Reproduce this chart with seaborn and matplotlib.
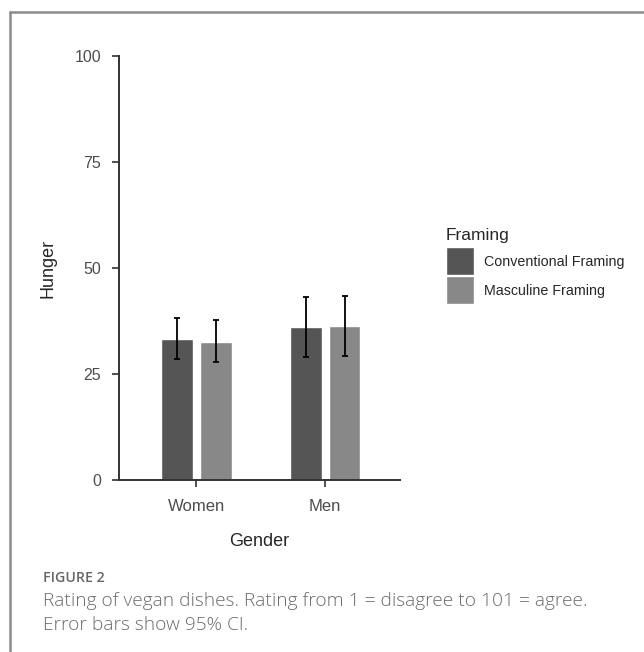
import pandas as pd
import matplotlib.pyplot as plt
import matplotlib.patches as mpatches
from matplotlib.legend_handler import HandlerPatch
import seaborn as sns

# Values
genders = ["Women", "Men"]
framings = ["Conventional Framing", "Masculine Framing"]
hunger_conv = [33.2, 36.1]
hunger_masc = [32.6, 36.4]
ci_low_conv = [28.5, 29.0]
ci_high_conv = [38.1, 43.2]
ci_low_masc = [27.9, 29.3]
ci_high_masc = [37.7, 43.4]

df = pd.DataFrame({
    "Gender": genders * 2,
    "Framing": [framings[0]] * 2 + [framings[1]] * 2,
    "Hunger": hunger_conv + hunger_masc,
    "lo": ci_low_conv + ci_low_masc,
    "hi": ci_high_conv + ci_high_masc,
})

sns.set_style("white")
plt.rcParams["font.family"] = ["Liberation Sans", "DejaVu Sans"]

fig = plt.figure(figsize=(6.44, 6.52), dpi=100)
ax = fig.add_axes([119 / 644, 1 - 480 / 652, 281 / 644, 424 / 652])

sns.barplot(data=df, x="Gender", y="Hunger", hue="Framing", order=genders,
            hue_order=framings, palette=["#555555", "#888888"],
            width=0.6, gap=0.18, errorbar=None, ax=ax)

# error bars at the bar centres
for patch, (_, row) in zip(ax.patches, df.iterrows()):
    xc = patch.get_x() + patch.get_width() / 2
    ax.errorbar(xc, row["Hunger"], yerr=[[row["Hunger"] - row["lo"]], [row["hi"] - row["Hunger"]]],
                fmt="none", ecolor="black", elinewidth=1.3, capsize=2.5, capthick=1.3)

ax.set_ylim(0, 100)
ax.set_xlim(-0.6, 1.58)
ax.set_yticks([0, 25, 50, 75, 100])
sns.despine(ax=ax)
for s in ["left", "bottom"]:
    ax.spines[s].set_color("#333333")
    ax.spines[s].set_linewidth(1.4)
ax.tick_params(axis="both", length=5, width=1.2, color="#333333",
               labelcolor="#4d4d4d", left=True, bottom=True, pad=8)
ax.tick_params(axis="y", labelsize=11.5)
ax.tick_params(axis="x", labelsize=12, pad=9)
ax.set_xlabel("Gender", fontsize=13, labelpad=13)
ax.set_ylabel("Hunger", fontsize=13, labelpad=13)


# square legend keys, as in the original
def square_key(legend, orig_handle, xdescent, ydescent, width, height, fontsize):
    side = width
    return mpatches.Rectangle((-xdescent, height / 2 - side / 2 - ydescent / 2), side, side)


leg = ax.legend(title="Framing", loc="upper left", bbox_to_anchor=(440 / 644, 1 - 222 / 652),
                bbox_transform=fig.transFigure, frameon=False, fontsize=10.3,
                title_fontsize=12.5, handlelength=1.95, labelspacing=1.02,
                handletextpad=0.75, borderaxespad=0,
                handler_map={mpatches.Rectangle: HandlerPatch(patch_func=square_key)})
leg._legend_box.align = "left"
leg._legend_box.sep = 9

# caption and page frame
fig.add_artist(plt.Line2D([10 / 644, 1], [1 - 12 / 652] * 2, color="#8c8c8c", lw=1.8))
fig.add_artist(plt.Line2D([10 / 644] * 2, [0, 1 - 12 / 652], color="#8c8c8c", lw=1.8))
fig.text(43 / 644, 1 - 578 / 652, "FIGURE 2", fontsize=10.2, color="#666666",
         family="Open Sans", weight="semibold", va="center")
fig.text(43 / 644, 1 - 601 / 652,
         "Rating of vegan dishes. Rating from 1 = disagree to 101 = agree.",
         fontsize=13.8, color="#6b6b6b", family="Open Sans", weight="light", va="center")
fig.text(43 / 644, 1 - 625 / 652, "Error bars show 95% CI.",
         fontsize=13.8, color="#6b6b6b", family="Open Sans", weight="light", va="center")

fig.savefig("out.png", dpi=100)
